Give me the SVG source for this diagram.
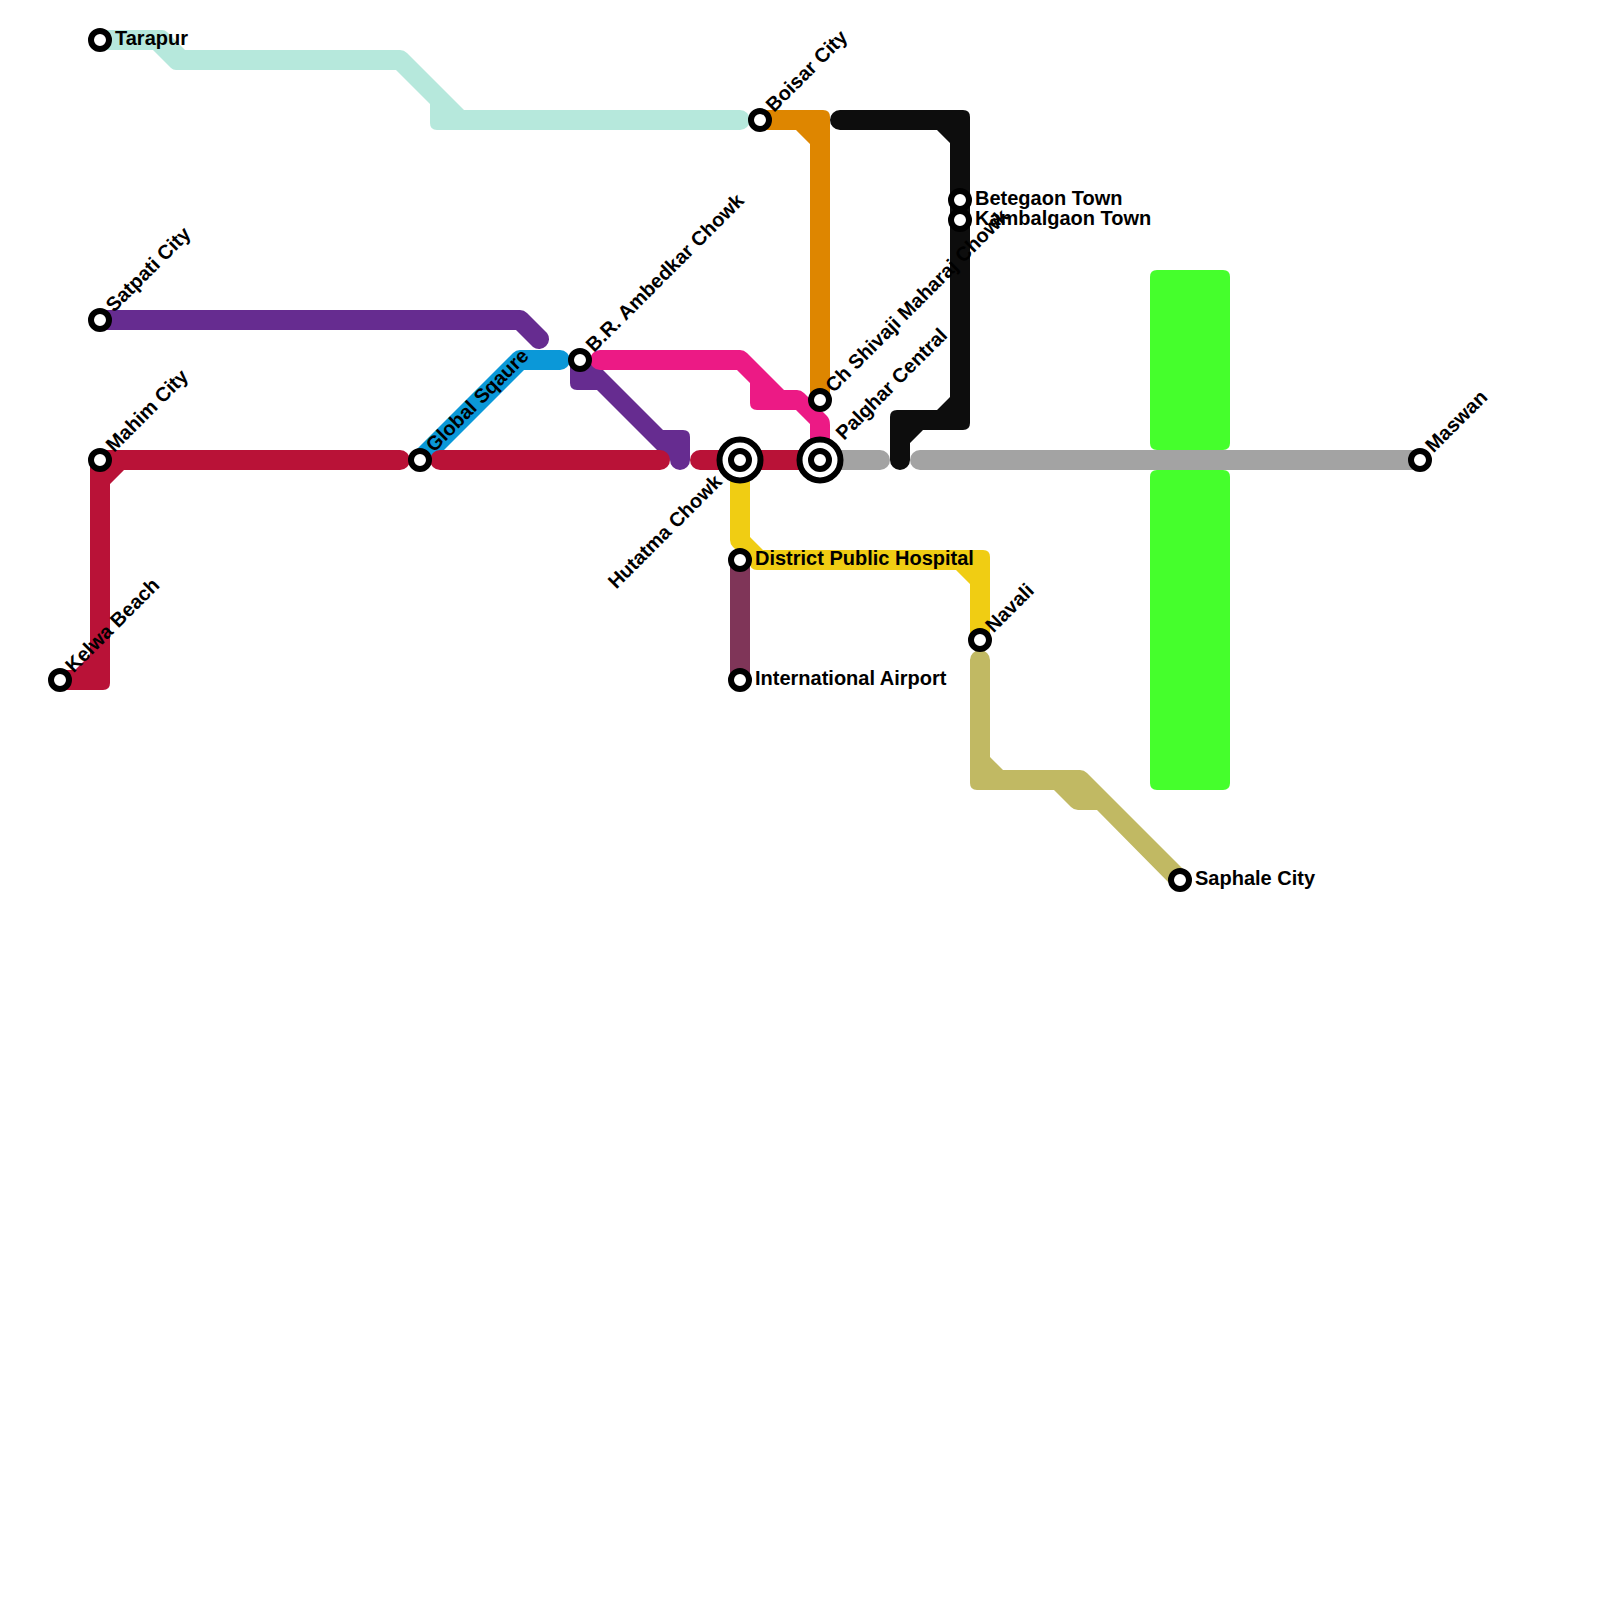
<svg xmlns="http://www.w3.org/2000/svg" width="1600" height="1600" viewBox="0 0 1600 1600">
<style>
text{font-family:"Liberation Sans",Arial,sans-serif;font-weight:700;font-size:20px;fill:#000}
.st{fill:#fff;stroke:#000;stroke-width:6}
.ring{fill:#fff;stroke:#000;stroke-width:6}
</style>
<rect width="1600" height="1600" fill="#fff"/>
<g id="connectors">
<path fill="#45ff2c" d="M1157,270H1223Q1230,270 1230,277V443Q1230,450 1223,450H1157Q1150,450 1150,443V277Q1150,270 1157,270Z"/>
<path fill="#45ff2c" d="M1157,470H1223Q1230,470 1230,477V783Q1230,790 1223,790H1157Q1150,790 1150,783V477Q1150,470 1157,470Z"/>
<path id="line-mint" fill="#b6e8dc" d="M100,30L162,30Q165,30 167,32L185,50L400,50Q404,50 407,53L464,110L740,110A10,10 0 0 1 740,130L437,130Q430,130 430,123L430,104L396,70L176,70Q173,70 171,68L153,50L100,50Z"/>
<path id="line-purple-a" fill="#662c90" d="M100,310L520,310Q524,310 527,313L547,333A10,10 0 0 1 533,347L516,330L100,330Z"/>
<path id="line-blue" fill="#0b98d8" d="M413,453L513,353Q516,350 520,350L560,350A10,10 0 0 1 560,370L524,370L427,467Z"/>
<path id="line-purple-b" fill="#662c90" d="M570,360L570,383Q570,390 577,390L597,390L664,457L670,460A10,10 0 0 0 690,460L690,437Q690,430 683,430L663,430L593,360Z"/>
<path id="line-red-a" fill="#b91237" d="M60,670L75,670L90,655L90,460Q90,450 100,450L400,450A10,10 0 0 1 400,470L124,470L110,484L110,683Q110,690 103,690L60,690Z"/>
<path id="line-red-b" fill="#b91237" d="M440,450L660,450A10,10 0 0 1 660,470L440,470A10,10 0 0 1 440,450Z"/>
<path id="line-red-c" fill="#b91237" d="M700,450L820,450L820,470L700,470A10,10 0 0 1 700,450Z"/>
<path id="line-orange" fill="#de8600" d="M760,110L823,110Q830,110 830,117L830,400L810,400L810,144L796,130L760,130Z"/>
<path id="line-pink" fill="#ec1a85" d="M600,350L740,350Q744,350 747,353L784,390L797,390Q801,390 804,393L827,416Q830,419 830,425L830,460L810,460L810,424L796,410L757,410Q750,410 750,403L750,383L737,370L600,370A10,10 0 0 1 600,350Z"/>
<path id="line-grey-a" fill="#a3a3a3" d="M820,450L880,450A10,10 0 0 1 880,470L820,470Z"/>
<path id="line-grey-b" fill="#a3a3a3" d="M920,450L1420,450L1420,470L920,470A10,10 0 0 1 920,450Z"/>
<path id="line-black" fill="#0d0d0d" d="M840,110L963,110Q970,110 970,117L970,423Q970,430 963,430L923,430L910,443L910,460A10,10 0 0 1 890,460L890,417Q890,410 897,410L937,410L950,397L950,143L937,130L840,130A10,10 0 0 1 840,110Z"/>
<path id="line-yellow" fill="#f0cd13" d="M730,460L750,460L750,537L763,550L983,550Q990,550 990,557L990,640L970,640L970,584L956,570L757,570Q750,570 750,563L733,547Q730,544 730,540Z"/>
<path id="line-maroon" fill="#7f3558" d="M730,560H750V680H730Z"/>
<path id="line-khaki" fill="#c1b963" d="M970,660A10,10 0 0 1 990,660L990,757L1003,770L1080,770Q1084,770 1087,773L1187,873L1173,887L1097,810L1078,810Q1074,810 1071,807L1054,790L977,790Q970,790 970,783Z"/>
</g>
<g id="n-tarapur"><circle class="st" cx="100" cy="40" r="9"/><text x="115" y="45">Tarapur</text></g>
<g id="n-satpati"><circle class="st" cx="100" cy="320" r="9"/><text transform="translate(114,313) rotate(-45)">Satpati City</text></g>
<g id="n-mahim"><circle class="st" cx="100" cy="460" r="9"/><text transform="translate(114,453) rotate(-45)">Mahim City</text></g>
<g id="n-kelwa"><circle class="st" cx="60" cy="680" r="9"/><text transform="translate(73.5,673.5) rotate(-45)">Kelwa Beach</text></g>
<g id="n-global"><circle class="st" cx="420" cy="460" r="9"/><text transform="translate(434,453) rotate(-45)">Global Sqaure</text></g>
<g id="n-ambedkar"><circle class="st" cx="580" cy="360" r="9"/><text transform="translate(594,353) rotate(-45)">B.R. Ambedkar Chowk</text></g>
<g id="n-hutatma"><circle class="ring" cx="740" cy="460" r="20.5"/><circle class="st" cx="740" cy="460" r="9"/><text text-anchor="end" transform="translate(723,483) rotate(-45)">Hutatma Chowk</text></g>
<g id="n-palghar"><circle class="ring" cx="820" cy="460" r="20.5"/><circle class="st" cx="820" cy="460" r="9"/><text transform="translate(844,441) rotate(-45)">Palghar Central</text></g>
<g id="n-boisar"><circle class="st" cx="760" cy="120" r="9"/><text transform="translate(774,113) rotate(-45)">Boisar City</text></g>
<g id="n-shivaji"><circle class="st" cx="820" cy="400" r="9"/><text transform="translate(833.5,393.5) rotate(-45)">Ch Shivaji Maharaj Chowk</text></g>
<g id="n-betegaon"><circle class="st" cx="960" cy="200" r="9"/><text x="975" y="205">Betegaon Town</text></g>
<g id="n-kambalgaon"><circle class="st" cx="960" cy="220" r="9"/><text x="975" y="225">Kambalgaon Town</text></g>
<g id="n-district"><circle class="st" cx="740" cy="560" r="9"/><text x="755" y="565">District Public Hospital</text></g>
<g id="n-navali"><circle class="st" cx="980" cy="640" r="9"/><text transform="translate(993.5,633.5) rotate(-45)">Navali</text></g>
<g id="n-airport"><circle class="st" cx="740" cy="680" r="9"/><text x="755" y="685">International Airport</text></g>
<g id="n-saphale"><circle class="st" cx="1180" cy="880" r="9"/><text x="1195" y="885">Saphale City</text></g>
<g id="n-maswan"><circle class="st" cx="1420" cy="460" r="9"/><text transform="translate(1433.5,453.5) rotate(-45)">Maswan</text></g>
</svg>
